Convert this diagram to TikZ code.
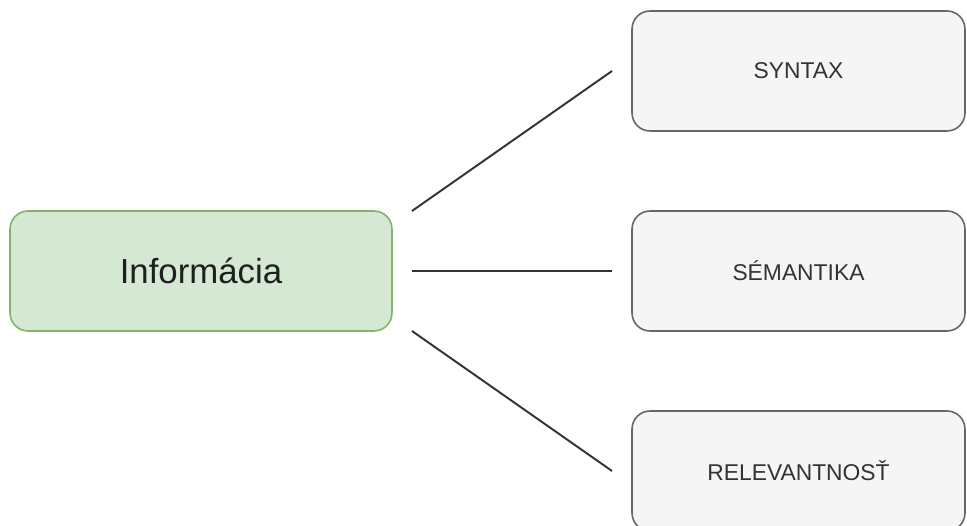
\documentclass[tikz,border=0pt]{standalone}
\usepackage{fontspec}
\setmainfont{Liberation Sans}
\usepackage{tikz}
\usetikzlibrary{positioning}
\definecolor{infofill}{HTML}{D5E8D4}
\definecolor{infodraw}{HTML}{82B366}
\definecolor{partfill}{HTML}{F5F5F5}
\definecolor{partdraw}{HTML}{666666}
\definecolor{linkcol}{HTML}{333333}

\begin{document}
\begin{tikzpicture}[x=0.02cm, y=-0.02cm,
  every node/.style={rectangle, rounded corners=0.36cm, line width=0.9pt, outer sep=0pt, inner sep=0pt},
  infobox/.style={draw=infodraw, fill=infofill, minimum width=7.64cm, minimum height=2.4cm, text=black!88, font=\fontsize{19.8}{24}\selectfont},
  partbox/.style={draw=partdraw, fill=partfill, minimum width=6.66cm, minimum height=2.4cm, text=linkcol, font=\fontsize{13}{16}\selectfont},
  link/.style={draw=linkcol, line width=1.1pt}]
\useasboundingbox (0,0) rectangle (967,526);
\clip (0,0) rectangle (967,526);

\node[infobox] (info) at (201,271) {Informácia};
\node[partbox] (syn) at (798.5,71) {SYNTAX};
\node[partbox] (sem) at (798.5,271) {SÉMANTIKA};
\node[partbox] (rel) at (798.5,471) {RELEVANTNOSŤ};

\draw[link] ([xshift=0.4cm]info.north east) -- ([xshift=-0.4cm]syn.west);
\draw[link] ([xshift=0.4cm]info.east) -- ([xshift=-0.4cm]sem.west);
\draw[link] ([xshift=0.4cm]info.south east) -- ([xshift=-0.4cm]rel.west);
\end{tikzpicture}
\end{document}
